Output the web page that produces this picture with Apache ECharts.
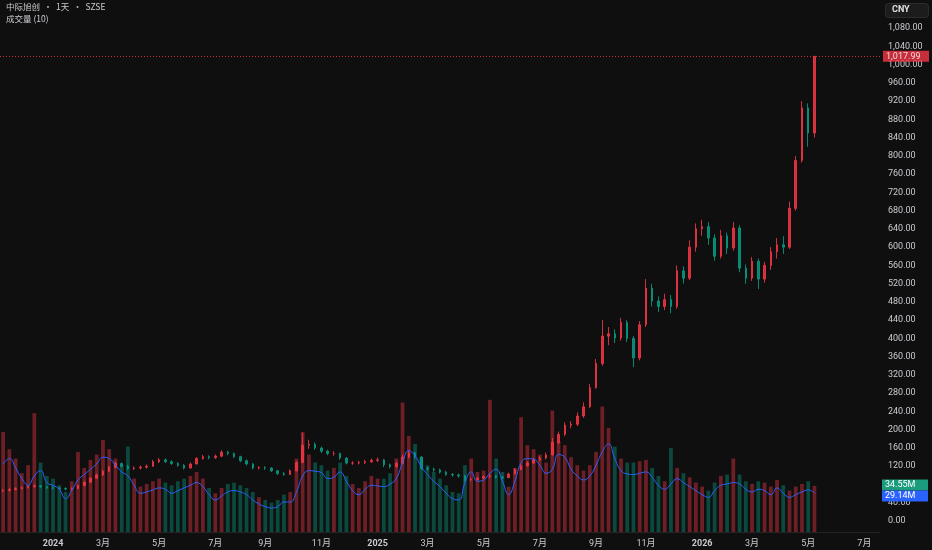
<!DOCTYPE html>
<html><head><meta charset="utf-8">
<script src="https://cdn.jsdelivr.net/npm/echarts@6/dist/echarts.min.js"></script>
<style>html,body{margin:0;padding:0;background:#0f0f0f;}#c{width:932px;height:550px;}</style>
</head><body><div id="c"></div><script>
// Weekly categories (Monday of each week)
const dates = [
"2023-11-06","2023-11-13","2023-11-20","2023-11-27","2023-12-04","2023-12-11","2023-12-18","2023-12-25",
"2024-01-01","2024-01-08","2024-01-15","2024-01-22","2024-01-29","2024-02-05","2024-02-12","2024-02-19","2024-02-26",
"2024-03-04","2024-03-11","2024-03-18","2024-03-25","2024-04-01","2024-04-08","2024-04-15","2024-04-22","2024-04-29",
"2024-05-06","2024-05-13","2024-05-20","2024-05-27","2024-06-03","2024-06-10","2024-06-17","2024-06-24",
"2024-07-01","2024-07-08","2024-07-15","2024-07-22","2024-07-29","2024-08-05","2024-08-12","2024-08-19","2024-08-26",
"2024-09-02","2024-09-09","2024-09-16","2024-09-23","2024-09-30","2024-10-07","2024-10-14","2024-10-21","2024-10-28",
"2024-11-04","2024-11-11","2024-11-18","2024-11-25","2024-12-02","2024-12-09","2024-12-16","2024-12-23","2024-12-30",
"2025-01-06","2025-01-13","2025-01-20","2025-01-27","2025-02-03","2025-02-10","2025-02-17","2025-02-24",
"2025-03-03","2025-03-10","2025-03-17","2025-03-24","2025-03-31","2025-04-07","2025-04-14","2025-04-21","2025-04-28",
"2025-05-05","2025-05-12","2025-05-19","2025-05-26","2025-06-02","2025-06-09","2025-06-16","2025-06-23","2025-06-30",
"2025-07-07","2025-07-14","2025-07-21","2025-07-28","2025-08-04","2025-08-11","2025-08-18","2025-08-25",
"2025-09-01","2025-09-08","2025-09-15","2025-09-22","2025-09-29","2025-10-06","2025-10-13","2025-10-20","2025-10-27",
"2025-11-03","2025-11-10","2025-11-17","2025-11-24","2025-12-01","2025-12-08","2025-12-15","2025-12-22","2025-12-29",
"2026-01-05","2026-01-12","2026-01-19","2026-01-26","2026-02-02","2026-02-09","2026-02-16","2026-02-23",
"2026-03-02","2026-03-09","2026-03-16","2026-03-23","2026-03-30","2026-04-06","2026-04-13","2026-04-20","2026-04-27",
"2026-05-04","2026-05-11","2026-05-18","2026-05-25","2026-06-01","2026-06-08","2026-06-15","2026-06-22","2026-06-29",
"2026-07-06","2026-07-13"
];
// [open, close, low, high]
const ohlc = [
[66,67,63,70],[67,69,65,72],[69,71,67,74],[71,73,69,76],[73,75,71,78],[75,77,73,81],[77,75,72,79],[75,73,70,77],
[73,72,69,76],[72,71,68,75],[71,70,67,74],[70,71,67,74],[71,78,70,80],[78,85,76,87],[85,94,84,96],[94,101,92,104],
[101,109,99,112],[109,118,107,121],[118,126,116,130],[126,120,117,128],[120,115,112,123],[115,116,112,120],[116,118,113,122],[118,120,115,124],
[120,130,119,134],[130,134,127,138],[134,130,127,137],[130,126,123,133],[126,122,119,129],[122,116,113,125],[116,125,115,128],[125,137,124,140],
[137,141,134,145],[141,139,135,144],[139,142,136,146],[142,151,140,155],[151,148,144,154],[148,141,138,150],[141,132,129,143],[132,125,122,135],
[125,116,113,127],[116,117,113,120],[117,116,112,120],[116,110,107,118],[110,104,101,112],[104,102,99,107],[102,110,101,113],[110,128,109,131],
[128,166,127,193],[166,168,158,178],[168,160,156,172],[160,153,149,163],[153,148,144,156],[148,148,143,153],[148,138,134,150],[138,127,124,140],
[127,127,123,131],[127,128,124,132],[128,130,125,134],[130,133,127,137],[133,134,129,139],[134,123,118,136],[123,119,115,126],[119,126,117,130],
[126,140,124,146],[140,149,137,155],[149,140,136,152],[140,115,112,142],[115,114,110,119],[114,112,108,117],[112,107,104,115],[107,102,99,110],
[102,101,97,105],[101,99,95,104],[99,90,86,101],[90,91,87,95],[91,94,89,97],[94,97,92,100],[97,99,94,103],[99,96,93,101],
[96,95,92,99],[95,103,94,106],[103,113,102,116],[113,121,111,125],[121,127,119,131],[127,134,125,138],[134,138,131,142],[138,145,135,150],
[145,172,143,182],[172,190,168,196],[190,210,186,216],[210,212,203,219],[212,230,208,238],[230,250,226,260],[250,292,248,300],[292,345,290,355],
[345,405,340,440],[405,410,385,425],[410,401,390,420],[401,435,395,445],[435,400,392,440],[400,357,337,405],[357,430,352,438],[430,510,425,530],
[510,482,470,520],[482,470,458,492],[470,485,462,498],[485,470,455,495],[470,548,465,560],[548,532,520,558],[532,600,528,615],[600,640,590,652],
[640,645,625,660],[645,620,605,655],[620,580,570,628],[580,625,575,638],[625,598,585,632],[598,642,592,655],[642,554,545,648],[554,532,520,562],
[532,569,526,578],[569,530,508,575],[530,560,522,568],[560,590,550,600],[590,605,575,620],[605,600,585,624],[600,685,596,700],[685,790,680,800],
[790,905,785,920],[905,850,820,915],[850,1017.99,840,1017.99]
];
// volume (millions)
const volumes = [
75,62,55,44,50,89,52,42,40,35,30,38,60,48,54,58,
69,62,55,50,64,40,34,36,38,40,37,35,38,40,42,45,
40,33,29,33,36,37,35,33,30,26,24,22,24,28,30,55,
75,58,52,50,46,48,52,42,36,33,38,42,40,40,44,55,
97,72,66,56,50,45,40,35,30,29,50,55,45,46,99,55,
45,34,48,86,65,62,58,52,91,68,65,56,50,46,50,60,
94,78,64,55,52,52,53,54,48,42,38,63,48,44,41,37,
34,31,37,42,43,55,43,38,36,38,37,34,39,35,31,34,
36,38,34.55
];
// volume 10-period moving average (millions)
const volumeMA = [
51,55,48,40,35,42,46,37,35,32,25,31,39,43,47,51,
56,55,50,45,42,35,29,30,31.5,33,32,29,31,33,35,37,
34,28,24,27,30,31,30,28,24,21,19,18,19,22.5,22.5,30,
42,46,45.5,44.5,40,41,45,38,31,28,32,35,34.5,34,36,40,
52,61,57,49,43,38,34,29,25,24,37,45,38,39,44,47,
38,28,38,52,55,54.5,50,44,47,58,56,47,42,39,42,50,
60,66,55,46,43.5,43,44,45,41,35,32,36,40,37,34,31,
28,26,31,35,36,37,36,32,30,32,31,28,33,29,26,28,
30,31.5,29.14
];
const lastPrice = 1017.99;
const lastVolume = 34.55;
const lastVolumeMA = 29.14;

const UP = '#f23645', DOWN = '#089981';
const UP_VOL = 'rgba(242,54,69,0.42)', DOWN_VOL = 'rgba(8,153,129,0.42)';
const TXT = '#c9cbd0';
const FONT = 'Roboto, "Noto Sans CJK SC", sans-serif';

function fmt(v){ return v.toFixed(2).replace(/\B(?=(\d{3})+(?!\d))/g, ','); }
function parseD(s){ const p=s.split('-').map(Number); return new Date(p[0],p[1]-1,p[2]); }
function weekLabel(s){
  const d=parseD(s); const e=new Date(d.getFullYear(),d.getMonth(),d.getDate()+6);
  let m=null, y=null;
  if(d.getDate()===1){ m=d.getMonth(); y=d.getFullYear(); }
  else if(e.getMonth()!==d.getMonth()){ m=e.getMonth(); y=e.getFullYear(); }
  if(m===null || m%2!==0) return null;
  return m===0 ? '{y|'+y+'}' : (m+1)+'月';
}

const chart = echarts.init(document.getElementById('c'), null, {renderer:'canvas'});
chart.setOption({
  backgroundColor:'#0f0f0f',
  animation:false,
  textStyle:{fontFamily:FONT},
  grid:[
    {left:0, right:52, top:-8.5, height:547.78, outerBoundsMode:'none'},
    {left:0, right:52, top:398.5, height:133.5, outerBoundsMode:'none'}
  ],
  xAxis:[
    {type:'category', gridIndex:0, data:dates, show:false},
    {type:'category', gridIndex:1, data:dates,
     axisLine:{show:true, lineStyle:{color:'#252525'}}, axisTick:{show:false},
     axisLabel:{color:TXT, fontSize:9, margin:7, fontFamily:FONT,
       interval:function(i,v){ return weekLabel(v)!==null; },
       formatter:function(v){ return weekLabel(v)||''; },
       rich:{y:{fontWeight:'bold', fontSize:9, color:TXT, fontFamily:FONT}}},
     splitLine:{show:false}}
  ],
  yAxis:[
    {type:'value', gridIndex:0, position:'right', min:-40, max:1160, interval:40,
     axisLine:{show:false}, axisTick:{show:false}, splitLine:{show:false},
     axisLabel:{color:TXT, fontSize:9, margin:8, fontFamily:FONT,
       formatter:function(v){ return (v<0||v>1080)?'':fmt(v); }}},
    {type:'value', gridIndex:1, min:0, max:100, show:false, splitLine:{show:false}}
  ],
  series:[
    {type:'bar', name:'成交量', xAxisIndex:1, yAxisIndex:1, barWidth:'60%', z:1,
     data:volumes.map(function(v,i){ return {value:v, itemStyle:{color: ohlc[i][1]>=ohlc[i][0]?UP_VOL:DOWN_VOL}}; }),
     markLine:{symbol:'none', silent:true,
       lineStyle:{color:'rgba(0,0,0,0)', width:0},
       data:[
         {yAxis:lastVolume, label:{show:true, position:'end', distance:2, formatter:'34.55M', color:'#fff', fontSize:9, fontFamily:FONT,
           backgroundColor:'#1b9c7c', padding:[1,3], width:40, offset:[0,-1]}},
         {yAxis:lastVolumeMA, label:{show:true, position:'end', distance:2, formatter:'29.14M', color:'#fff', fontSize:9, fontFamily:FONT,
           backgroundColor:'#2962ff', padding:[1,3], width:40, offset:[0,3]}}
       ]}},
    {type:'candlestick', name:'中际旭创', xAxisIndex:0, yAxisIndex:0, barWidth:'32%', z:3,
     data:ohlc,
     itemStyle:{color:UP, color0:DOWN, borderColor:UP, borderColor0:DOWN, borderWidth:1, opacity:0.85},
     markLine:{symbol:'none', silent:true,
       data:[{yAxis:lastPrice, lineStyle:{color:UP, type:[1,2], width:1, opacity:0.8}}],
       lineStyle:{color:UP, type:[1,2], width:1},
       label:{show:true, position:'end', distance:3, formatter:function(){return fmt(lastPrice);}, color:'#fff', fontSize:9, fontFamily:FONT,
         backgroundColor:UP, padding:[1,3], width:40}}},
    {type:'line', name:'MA10', xAxisIndex:1, yAxisIndex:1, data:volumeMA, smooth:true, showSymbol:false, symbol:'none', z:4,
     lineStyle:{color:'#2962ff', width:1}}
  ],
  graphic:[
    {type:'text', left:6, top:3, style:{text:'中际旭创  •  1天  •  SZSE', fill:TXT, font:'8.5px "Noto Sans CJK SC", sans-serif'}},
    {type:'text', left:6, top:15, style:{text:'成交量 (10)', fill:TXT, font:'8.5px "Noto Sans CJK SC", sans-serif'}},
    {type:'rect', left:885, top:3, shape:{width:43, height:14, r:3}, style:{fill:'#1c1c1c', stroke:'#2c2c2c', lineWidth:1}},
    {type:'text', left:892, top:5.5, style:{text:'CNY', fill:'#e0e0e0', font:'bold 9px Roboto, sans-serif'}}
  ]
});
</script></body></html>
